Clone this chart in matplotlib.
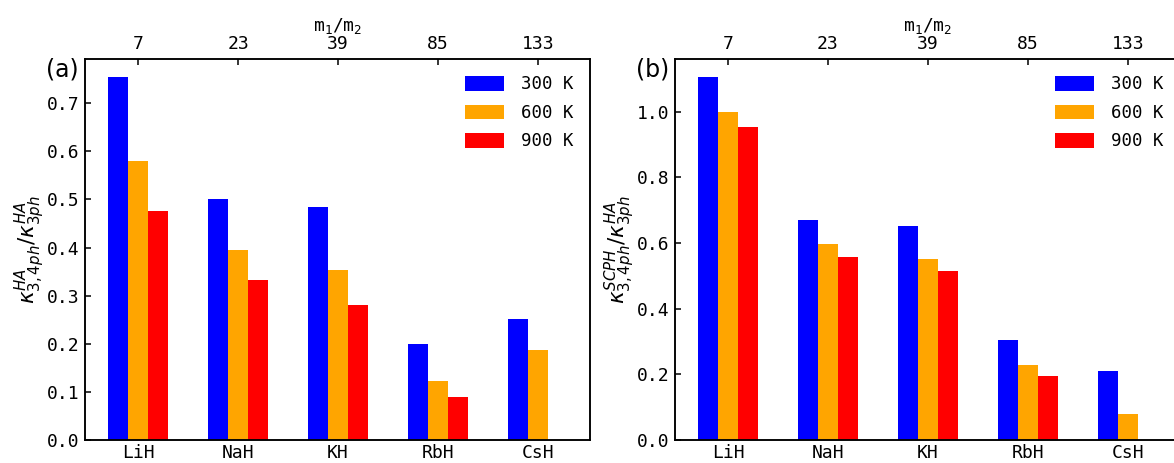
"""
Two-panel bar chart: four-phonon / three-phonon thermal conductivity ratio
for the alkali hydrides at 300, 600 and 900 K.
"""

import matplotlib
matplotlib.use("Agg")
import matplotlib.pyplot as plt
import numpy as np

# ---------------------------------------------------------------------------
# Data
# ---------------------------------------------------------------------------
materials = ["LiH", "NaH", "KH", "RbH", "CsH"]
mass_ratio = ["7", "23", "39", "85", "133"]
temps = ["300 K", "600 K", "900 K"]
colors = ["#0000ff", "#ffa500", "#ff0000"]

# panel (a): HA / HA
ratio_ha_300 = [0.755, 0.500, 0.485, 0.200, 0.252]
ratio_ha_600 = [0.580, 0.395, 0.353, 0.123, 0.188]
ratio_ha_900 = [0.475, 0.333, 0.281, 0.090, 0.0]

# panel (b): SCPH / HA
ratio_scph_300 = [1.106, 0.669, 0.653, 0.306, 0.210]
ratio_scph_600 = [1.000, 0.596, 0.553, 0.228, 0.079]
ratio_scph_900 = [0.954, 0.559, 0.514, 0.194, 0.0]

# ---------------------------------------------------------------------------
# Style
# ---------------------------------------------------------------------------
MONO = "DejaVu Sans Mono"
plt.rcParams.update({
    "font.family": "DejaVu Sans",
    "mathtext.fontset": "dejavusans",
    "axes.linewidth": 1.1,
    "xtick.direction": "in",
    "ytick.direction": "in",
    "xtick.major.width": 1.1,
    "ytick.major.width": 1.1,
    "xtick.major.size": 4,
    "ytick.major.size": 4,
})

fig = plt.figure(figsize=(11.74, 4.63), dpi=100)
W, H = 1174.0, 463.0


def panel(left_px, ylim, yticks, series, ylabel, tag, tag_x):
    ax = fig.add_axes([left_px / W, 23 / H, 505 / W, 381 / H])
    x = np.arange(len(materials))
    width = 0.2
    for i, (vals, col, lab) in enumerate(zip(series, colors, temps)):
        ax.bar(x + (i - 1) * width, vals, width, color=col, label=lab,
               linewidth=0)

    ax.set_xlim(-0.53, 4.52)
    ax.set_ylim(*ylim)
    ax.set_xticks(x)
    ax.set_xticklabels(materials, family=MONO, fontsize=13)
    ax.tick_params(axis="x", length=0, pad=3)
    ax.set_yticks(yticks)
    ax.set_yticklabels([f"{t:.1f}" for t in yticks], family=MONO, fontsize=13)
    ax.tick_params(axis="y", pad=4, right=False)
    ax.set_ylabel(ylabel, fontsize=15.5, labelpad=0)

    # top axis: mass ratio
    top = ax.twiny()
    top.set_xlim(ax.get_xlim())
    top.set_xticks(x)
    top.set_xticklabels(mass_ratio, family=MONO, fontsize=13)
    top.tick_params(axis="x", pad=4)
    top.set_xlabel(r"m$_\mathtt{1}$/m$_\mathtt{2}$", family=MONO,
                   fontsize=13)
    top.xaxis.set_label_coords(0.5, 1.074)

    ax.legend(loc="upper right", frameon=False, handlelength=2.2,
              handleheight=0.9, labelspacing=0.6, handletextpad=1.0,
              borderaxespad=0.55, prop={"family": MONO, "size": 12.5})

    fig.text(tag_x / W, 1 - 70 / H, tag, fontsize=17, ha="center",
             va="center")
    return ax


panel(85, (0, 0.792), np.arange(0, 0.71, 0.1),
      [ratio_ha_300, ratio_ha_600, ratio_ha_900],
      r"$\kappa^{HA}_{3,4ph}/\kappa^{HA}_{3ph}$", "(a)", 62)

panel(675, (0, 1.161), np.arange(0, 1.01, 0.2),
      [ratio_scph_300, ratio_scph_600, ratio_scph_900],
      r"$\kappa^{SCPH}_{3,4ph}/\kappa^{HA}_{3ph}$", "(b)", 653)

fig.savefig("out.png", dpi=100)
